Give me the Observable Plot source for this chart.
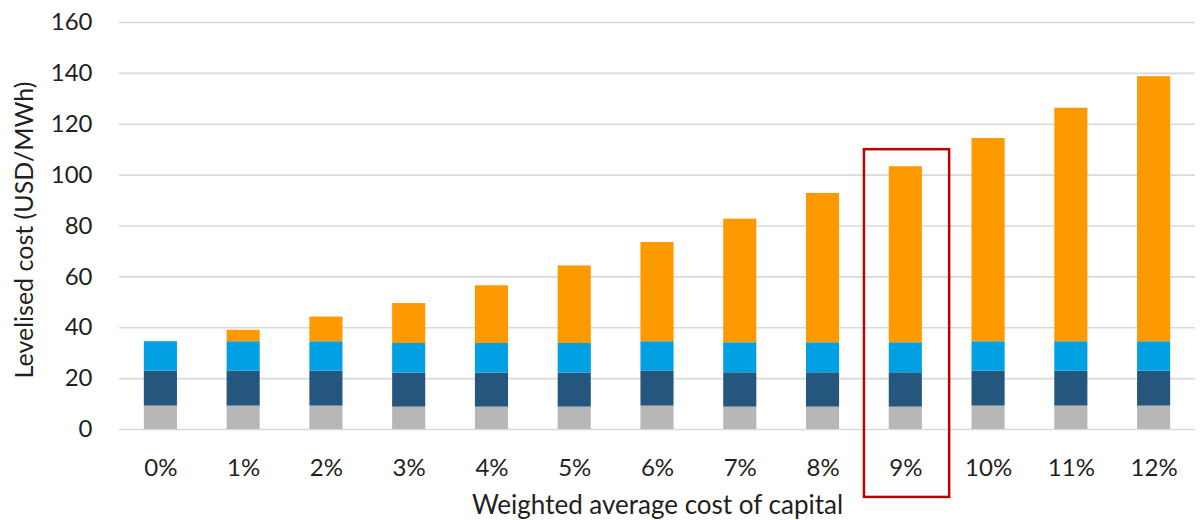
<!DOCTYPE html>
<html>
<head>
<meta charset="utf-8">
<script src="https://cdn.jsdelivr.net/npm/d3@7"></script>
<script src="https://cdn.jsdelivr.net/npm/@observablehq/plot@0.6"></script>
<style>
  html, body { margin: 0; padding: 0; background: #ffffff; }
  #chart { width: 1202px; height: 520px; }
</style>
</head>
<body>
<div id="chart"></div>
<script>
// Weighted average cost of capital (x categories)
const categories = ["0%", "1%", "2%", "3%", "4%", "5%", "6%", "7%", "8%", "9%", "10%", "11%", "12%"];

// Cost components, USD/MWh, stacked bottom to top
const seriesNames = ["Component A", "Component B", "Component C", "Capital cost"];
const seriesColors = ["#b7b7b7", "#24567e", "#00a0e2", "#ff9900"];
const componentA = [9.2, 9.2, 9.2, 8.8, 8.8, 8.8, 9.2, 8.8, 8.8, 8.8, 9.2, 9.2, 9.2];
const componentB = [13.7, 13.7, 13.7, 13.4, 13.4, 13.4, 13.8, 13.5, 13.5, 13.5, 13.7, 13.7, 13.7];
const componentC = [11.6, 11.6, 11.6, 11.6, 11.6, 11.6, 11.5, 11.8, 11.8, 11.8, 11.6, 11.6, 11.6];
const capitalCost = [0, 4.5, 9.7, 15.7, 22.7, 30.5, 39.0, 48.6, 58.7, 69.2, 79.9, 91.8, 104.2];

// Axis ticks and titles
const yTicks = [0, 20, 40, 60, 80, 100, 120, 140, 160];
const yTitle = "Levelised cost (USD/MWh)";
const xTitle = "Weighted average cost of capital";

// Highlighted category and extent of its outline (USD/MWh units)
const highlight = ["9%"];
const highlightTop = [110];
const highlightBottom = [-26.7];

const seriesValues = [componentA, componentB, componentC, capitalCost];
const rows = [];
seriesNames.forEach((name, s) => {
  categories.forEach((cat, i) => {
    rows.push({category: cat, series: name, value: seriesValues[s][i]});
  });
});

const font = "Lato, 'Open Sans', sans-serif";
const ink = "#231f20";

const chart = Plot.plot({
  width: 1202,
  height: 520,
  marginLeft: 119,
  marginRight: 7,
  marginTop: 22,
  marginBottom: 91,
  style: {fontFamily: font, fontSize: "24px", color: ink, background: "#ffffff", overflow: "visible"},
  x: {type: "band", domain: categories, paddingInner: 0.6, paddingOuter: 0.3, round: false, axis: null},
  y: {domain: [0, 160], axis: null},
  color: {domain: seriesNames, range: seriesColors},
  marks: [
    Plot.gridY(yTicks, {stroke: "#d9d9d9", strokeOpacity: 1, strokeWidth: 1.6}),
    Plot.barY(rows, {
      x: "category",
      y: "value",
      fill: "series",
      order: seriesNames
    }),
    // outline around the whole band of the highlighted category
    Plot.barY(highlight, {
      x: d => d,
      y1: (d, i) => highlightBottom[i],
      y2: (d, i) => highlightTop[i],
      fill: "none",
      stroke: "#c00000",
      strokeWidth: 2.5,
      insetLeft: -24.8,
      insetRight: -27.3
    }),
    Plot.axisY(yTicks, {
      tickSize: 0,
      tickPadding: 27,
      fontSize: 24,
      fill: ink,
      label: null
    }),
    Plot.axisX({
      tickSize: 0,
      tickPadding: 29,
      fontSize: 24,
      fill: ink,
      label: null
    }),
    Plot.text([yTitle], {
      frameAnchor: "left",
      textAnchor: "middle",
      rotate: -90,
      dx: -95,
      dy: 4,
      fontSize: 25,
      fill: ink
    }),
    Plot.text([xTitle], {
      frameAnchor: "bottom",
      dy: 84,
      fontSize: 26,
      fill: ink
    })
  ]
});

document.getElementById("chart").appendChild(chart);
</script>
</body>
</html>
